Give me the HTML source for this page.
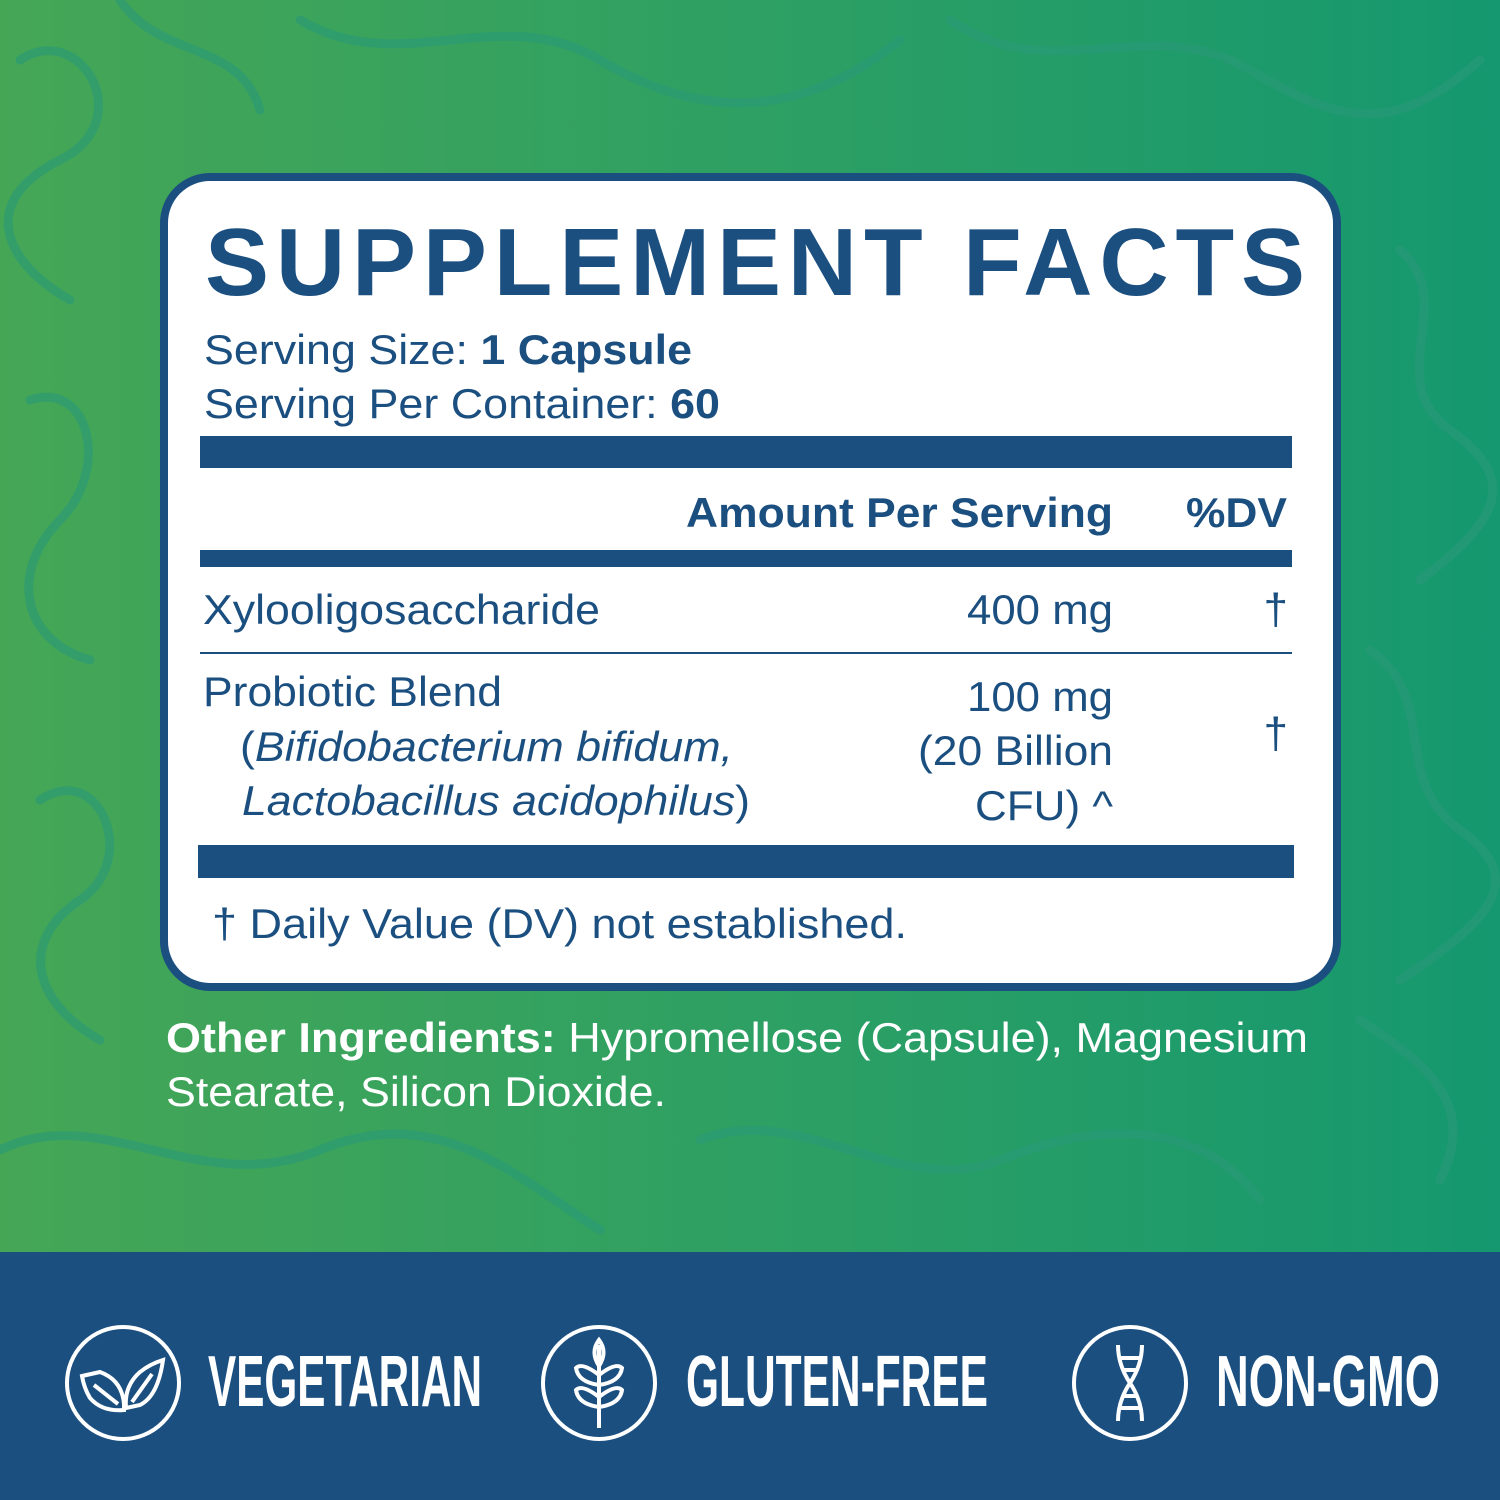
<!DOCTYPE html>
<html><head><meta charset="utf-8"><style>
html,body{margin:0;padding:0}
body{width:1500px;height:1500px;position:relative;overflow:hidden;font-family:"Liberation Sans",sans-serif}
</style></head><body>
<svg width="1500" height="1500" viewBox="0 0 1500 1500" xmlns="http://www.w3.org/2000/svg" style="position:absolute;left:0;top:0">
<defs>
<linearGradient id="bg" x1="0" y1="0" x2="1" y2="0">
<stop offset="0" stop-color="#45a656"/><stop offset="0.5" stop-color="#2ea063"/><stop offset="1" stop-color="#15986f"/>
</linearGradient>
</defs>
<rect width="1500" height="1252" fill="url(#bg)"/>
<g fill="none" stroke="#2a9a78" stroke-width="9" opacity="0.6" stroke-linecap="round">
<path d="M20 60 C80 20 140 120 60 160 S0 260 70 300"/>
<path d="M120 0 C160 60 240 40 260 110"/>
<path d="M30 400 C90 380 110 470 60 520 S20 640 90 660"/>
<path d="M40 800 C100 760 140 860 80 900 S30 1000 100 1040"/>
<path d="M0 1150 C100 1100 200 1200 320 1150 S520 1180 600 1230"/>
<path d="M700 1140 C800 1100 900 1200 1000 1160 S1200 1120 1260 1200"/>
<path d="M300 20 C400 80 500 0 600 60 S800 120 900 40"/>
<path d="M950 20 C1050 90 1150 10 1250 70 S1400 130 1480 60"/>
<path d="M1400 250 C1460 300 1380 380 1450 430 S1500 520 1420 580"/>
<path d="M1370 650 C1440 700 1390 780 1460 830 S1490 920 1400 980"/>
<path d="M1360 1020 C1420 1060 1480 1100 1440 1180"/>
</g>
<rect x="0" y="1252" width="1500" height="248" fill="#1b4f80"/>
<g fill="none" stroke="#fff" stroke-width="4">
<circle cx="123" cy="1383" r="56"/>
<circle cx="599" cy="1383" r="56"/>
<circle cx="1130" cy="1383" r="56"/>
<path d="M82 1376 L100 1372 Q122 1380 124 1404 L124 1410 Q102 1412 90 1398 Q84 1388 82 1376Z"/>
<path d="M94 1385 L118 1404"/>
<path d="M163 1360 Q158 1396 140 1405 L126 1408 Q124 1386 140 1372 Q150 1364 163 1360Z"/>
<path d="M152 1374 L132 1402"/>
<path d="M599 1345 L599 1428"/>
<path d="M599 1340 Q590 1352 599 1366 Q608 1352 599 1340Z"/>
<path d="M599 1375 Q582 1362 576 1368 Q578 1382 599 1385"/>
<path d="M599 1375 Q616 1362 622 1368 Q620 1382 599 1385"/>
<path d="M599 1397 Q582 1384 576 1390 Q578 1404 599 1407"/>
<path d="M599 1397 Q616 1384 622 1390 Q620 1404 599 1407"/>
<path d="M1118 1345 Q1118 1365 1130 1383 Q1142 1401 1142 1421"/>
<path d="M1142 1345 Q1142 1365 1130 1383 Q1118 1401 1118 1421"/>
<path d="M1120 1358 L1140 1358 M1124 1370 L1136 1370 M1124 1396 L1136 1396 M1120 1408 L1140 1408"/>
</g>
<g fill="#fff" font-family="'Liberation Sans Narrow','Liberation Sans',sans-serif" font-weight="bold" font-size="72">
<text x="208" y="1406" textLength="274" lengthAdjust="spacingAndGlyphs">VEGETARIAN</text>
<text x="686" y="1406" textLength="302" lengthAdjust="spacingAndGlyphs">GLUTEN-FREE</text>
<text x="1216" y="1406" textLength="224" lengthAdjust="spacingAndGlyphs">NON-GMO</text>
</g>
<rect x="164" y="177" width="1173" height="810" rx="46" fill="#fff" stroke="#1b4f80" stroke-width="8"/>
<g fill="#1b4f80" font-size="42">
<text x="205" y="295" font-size="96" font-weight="bold" textLength="1100" lengthAdjust="spacing">SUPPLEMENT FACTS</text>
<text x="204" y="364" textLength="488" lengthAdjust="spacingAndGlyphs">Serving Size: <tspan font-weight="bold">1 Capsule</tspan></text>
<text x="204" y="418" textLength="516" lengthAdjust="spacingAndGlyphs">Serving Per Container: <tspan font-weight="bold">60</tspan></text>
<rect x="200" y="436" width="1092" height="32"/>
<text x="686" y="527" font-weight="bold" textLength="427" lengthAdjust="spacingAndGlyphs">Amount Per Serving</text>
<text x="1186" y="527" font-weight="bold" textLength="101" lengthAdjust="spacingAndGlyphs">%DV</text>
<rect x="200" y="550" width="1092" height="17"/>
<text x="203" y="624" textLength="397" lengthAdjust="spacingAndGlyphs">Xylooligosaccharide</text>
<text x="967" y="624" textLength="146" lengthAdjust="spacingAndGlyphs">400 mg</text>
<text x="1288" y="624" font-size="44" text-anchor="end">†</text>
<rect x="200" y="652" width="1092" height="2"/>
<text x="203" y="706" textLength="299" lengthAdjust="spacingAndGlyphs">Probiotic Blend</text>
<text x="240" y="761" textLength="493" lengthAdjust="spacingAndGlyphs">(<tspan font-style="italic">Bifidobacterium bifidum,</tspan></text>
<text x="242" y="815" textLength="508" lengthAdjust="spacingAndGlyphs"><tspan font-style="italic">Lactobacillus acidophilus</tspan>)</text>
<text x="967" y="711" textLength="146" lengthAdjust="spacingAndGlyphs">100 mg</text>
<text x="918" y="765" textLength="195" lengthAdjust="spacingAndGlyphs">(20 Billion</text>
<text x="975" y="820" textLength="138" lengthAdjust="spacingAndGlyphs">CFU) ^</text>
<text x="1288" y="748" font-size="44" text-anchor="end">†</text>
<rect x="198" y="845" width="1096" height="33"/>
<text x="212" y="938" textLength="695" lengthAdjust="spacingAndGlyphs">† Daily Value (DV) not established.</text>
</g>
<g fill="#fff" font-size="42">
<text x="166" y="1052" textLength="1142" lengthAdjust="spacingAndGlyphs"><tspan font-weight="bold">Other Ingredients:</tspan> Hypromellose (Capsule), Magnesium</text>
<text x="166" y="1106" textLength="500" lengthAdjust="spacingAndGlyphs">Stearate, Silicon Dioxide.</text>
</g>
</svg>
</body></html>
